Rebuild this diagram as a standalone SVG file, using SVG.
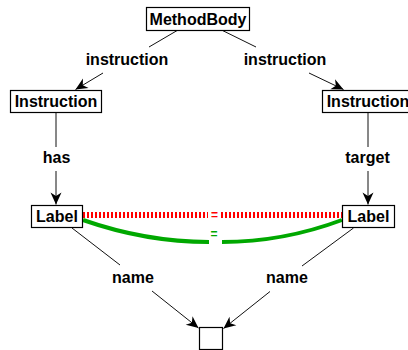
<svg xmlns="http://www.w3.org/2000/svg" width="408" height="350" viewBox="0 0 408 350">
  <style>
    .box { fill: #fff; stroke: #000; stroke-width: 1.2; }
    .txt { font-family: "Liberation Sans", Arial, sans-serif; font-weight: bold; font-size: 16px; fill: #000; text-anchor: middle; }
    .edge { fill: none; stroke: #111; stroke-width: 1; }
    .eq { font-family: "Liberation Sans", Arial, sans-serif; font-weight: bold; font-size: 12px; text-anchor: middle; }
  </style>
  <defs>
    <marker id="arrow" markerUnits="userSpaceOnUse" markerWidth="14" markerHeight="12" refX="0" refY="0" orient="auto" overflow="visible">
      <path d="M0,0 L-12,-5.5 L-8.5,0 L-12,5.5 Z" fill="#000"/>
    </marker>
  </defs>
  <rect width="408" height="350" fill="#fff"/>

  <!-- connectors -->
  <g id="connectors">
    <path class="edge" d="M178,30 L149,47"/>
    <path class="edge" d="M103,73 L75.5,89.5" marker-end="url(#arrow)"/>
    <text class="txt" x="127" y="65">instruction</text>

    <path class="edge" d="M221.5,30 L256,47"/>
    <path class="edge" d="M309,73 L343.5,89.5" marker-end="url(#arrow)"/>
    <text class="txt" x="285" y="65">instruction</text>

    <path class="edge" d="M56,113 L56,147"/>
    <path class="edge" d="M56,171 L56,204.5" marker-end="url(#arrow)"/>
    <text class="txt" x="56.5" y="163">has</text>

    <path class="edge" d="M368,113 L368,147"/>
    <path class="edge" d="M368,171 L368,204.5" marker-end="url(#arrow)"/>
    <text class="txt" x="367.5" y="163">target</text>

    <path class="edge" d="M72,228 L120,265"/>
    <path class="edge" d="M152,291 L198.5,328" marker-end="url(#arrow)"/>
    <text class="txt" x="133" y="283">name</text>

    <path class="edge" d="M353.5,228 L302,266"/>
    <path class="edge" d="M270,291.5 L223.5,328.5" marker-end="url(#arrow)"/>
    <text class="txt" x="287" y="283">name</text>

    <!-- red dashed equality -->
    <path d="M83,215 L208,215 M221,215 L342,215" fill="none" stroke="#ff0000" stroke-width="6" stroke-dasharray="2 2"/>
    <text class="eq" x="214.5" y="219" fill="#ff0000">=</text>

    <!-- green curved equality -->
    <path d="M83,220 Q146,242 209,242 M222,242 Q283,242 342,220" fill="none" stroke="#00a800" stroke-width="4"/>
    <text class="eq" x="214" y="237.5" fill="#00a800">=</text>
  </g>

  <!-- nodes -->
  <g id="methodbody">
    <rect class="box" x="146.5" y="7.5" width="103" height="23"/>
    <text class="txt" x="198" y="25">MethodBody</text>
  </g>
  <g id="instruction-left">
    <rect class="box" x="10.5" y="90.5" width="91" height="22"/>
    <text class="txt" x="56" y="107">Instruction</text>
  </g>
  <g id="instruction-right">
    <rect class="box" x="322.5" y="90.5" width="91" height="22"/>
    <text class="txt" x="368" y="107">Instruction</text>
  </g>
  <g id="label-left">
    <rect class="box" x="31.5" y="205.5" width="51" height="22"/>
    <text class="txt" x="57" y="222">Label</text>
  </g>
  <g id="label-right">
    <rect class="box" x="342.5" y="205.5" width="52" height="22"/>
    <text class="txt" x="368.5" y="222">Label</text>
  </g>
  <g id="name-target">
    <rect class="box" x="199.5" y="327.5" width="23" height="22"/>
  </g>
</svg>
